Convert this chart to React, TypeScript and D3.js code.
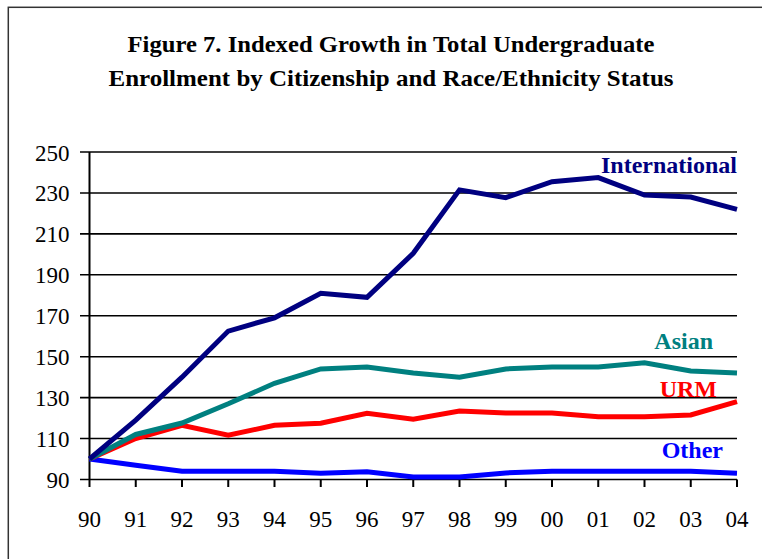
import React from "react";
import * as d3 from "d3";

const years = ["90","91","92","93","94","95","96","97","98","99","00","01","02","03","04"];
const international = [100,119,140,162.5,169,181,179,200.5,231.5,227.7,235.5,237.5,229,228,222];
const asian = [100,112,117.6,127,137,144,145,142,140,144,145,145,147,143,142];
const urm = [100,110,116.5,111.6,116.5,117.5,122.3,119.5,123.5,122.5,122.5,120.6,120.6,121.5,128];
const other = [100,97,94,94,94,93,93.8,91.2,91.2,93.2,94,94,94,94,93];
const yTicks = [90,110,130,150,170,190,210,230,250];
const titleLines = [
  "Figure 7. Indexed Growth in Total Undergraduate",
  "Enrollment by Citizenship and Race/Ethnicity Status",
];

const series = [
  { name: "International", values: international, color: "#000080", lx: 737, ly: 173 },
  { name: "Asian", values: asian, color: "#008080", lx: 713, ly: 349 },
  { name: "URM", values: urm, color: "#FF0000", lx: 717, ly: 397 },
  { name: "Other", values: other, color: "#0000FF", lx: 723, ly: 458 },
];

export default function App() {
  const W = 762, H = 559;
  const x = d3.scalePoint<string>().domain(years).range([89.5, 737]);
  const y = d3.scaleLinear().domain([90, 250]).range([479.5, 152]);
  const line = d3.line<number>()
    .x((_, i) => x(years[i]) as number)
    .y((d) => y(d))
    .curve(d3.curveLinear);
  const fs = { fontFamily: '"Liberation Serif", "Times New Roman", Times, serif' };
  return (
    <svg width={W} height={H} style={{ position: "absolute", left: 0, top: 0, background: "#fff" }}>
      <rect x={8.3} y={7.3} width={W + 20} height={H + 20} fill="#fff" stroke="#333" strokeWidth={1.5} />
      {titleLines.map((t, i) => (
        <text key={i} x={391} y={52 + i * 34} textAnchor="middle" style={fs} fontWeight="bold"
          fontSize={23} textLength={i === 0 ? 527 : 565} lengthAdjust="spacingAndGlyphs" fill="#000">{t}</text>
      ))}
      {yTicks.map((v) => (
        <g key={v}>
          <line x1={80} x2={737} y1={y(v)} y2={y(v)} stroke="#000" strokeWidth={1.6} />
          <text x={69.5} y={y(v) + 8.5} textAnchor="end" style={fs} fontSize={23} fill="#000">{v}</text>
        </g>
      ))}
      <line x1={89.5} x2={89.5} y1={152} y2={479.5} stroke="#000" strokeWidth={2} />
      {years.map((yr) => (
        <g key={yr}>
          <line x1={x(yr)} x2={x(yr)} y1={479.5} y2={487} stroke="#000" strokeWidth={2} />
          <text x={x(yr)} y={527} textAnchor="middle" style={fs} fontSize={23} fill="#000">{yr}</text>
        </g>
      ))}
      {series.slice().reverse().map((s) => (
        <path key={s.name} d={line(s.values) || ""} fill="none" stroke={s.color} strokeWidth={5}
          strokeLinejoin="miter" strokeLinecap="butt" />
      ))}
      {series.map((s) => (
        <text key={s.name + "l"} x={s.lx} y={s.ly} textAnchor="end" style={fs} fontWeight="bold"
          fontSize={24} fill={s.color}>{s.name}</text>
      ))}
    </svg>
  );
}
